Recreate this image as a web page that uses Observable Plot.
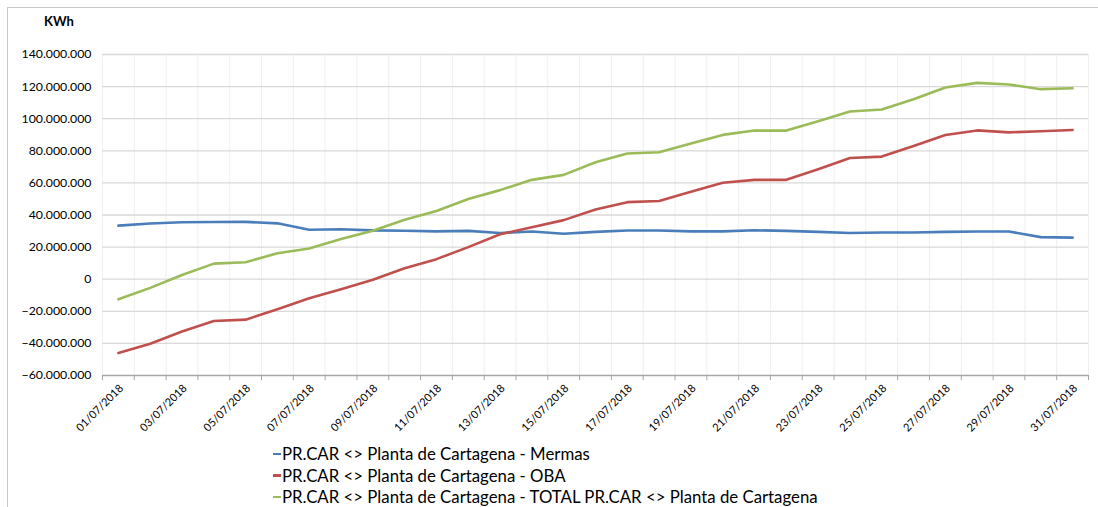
<!DOCTYPE html>
<html>
<head>
<meta charset="utf-8">
<script src="https://cdn.jsdelivr.net/npm/d3@7"></script>
<script src="https://cdn.jsdelivr.net/npm/@observablehq/plot@0.6"></script>
<style>
  html, body { margin: 0; padding: 0; background: #fff; }
  #wrap { position: relative; width: 1098px; height: 507px; overflow: hidden; font-family: Lato, "Open Sans", sans-serif; color: #000; }
  #frame { position: absolute; left: 7px; top: 7px; width: 1200px; height: 600px; border-left: 1.5px solid #c8c8c8; border-top: 1.5px solid #c8c8c8; }
  #title { position: absolute; left: 44px; top: 13px; font-size: 13px; font-weight: bold; }
  #chart { position: absolute; left: 0; top: 0; }
  #legend { position: absolute; left: 273px; top: 443px; font-size: 16.8px; line-height: 21.5px; }
  #legend .item { display: flex; align-items: center; white-space: nowrap; }
  #legend .sw { width: 8px; height: 2.5px; margin-right: 1px; }
</style>
</head>
<body>
<div id="wrap">
  <div id="frame"></div>
  <div id="chart"></div>
  <div id="title">KWh</div>
  <div id="legend"></div>
</div>
<script>
const days = d3.range(1, 32);
const dateLabels = days.map(d => String(d).padStart(2, "0") + "/07/2018");
const seriesNames = [
  "PR.CAR <> Planta de Cartagena - Mermas",
  "PR.CAR <> Planta de Cartagena - OBA",
  "PR.CAR <> Planta de Cartagena - TOTAL PR.CAR <> Planta de Cartagena"
];
const seriesColors = ["#4a7ebb", "#c0504d", "#9bbb59"];
// values in millions of KWh
const mermas = [33.4, 34.7, 35.5, 35.6, 35.7, 34.8, 30.8, 31.1, 30.4, 30.2, 29.8, 30.1, 28.8, 29.7, 28.3, 29.5, 30.3, 30.3, 29.8, 29.8, 30.5, 30.1, 29.5, 28.8, 29.1, 29.1, 29.5, 29.7, 29.7, 26.2, 25.9];
const oba = [-46.0, -40.2, -32.6, -26.0, -25.2, -18.7, -11.9, -6.2, -0.4, 6.8, 12.5, 20.0, 28.0, 32.4, 36.8, 43.4, 48.0, 48.7, 54.5, 60.1, 61.9, 61.9, 68.5, 75.5, 76.4, 83.0, 89.8, 92.7, 91.5, 92.2, 93.0];
const total = [-12.5, -5.4, 2.6, 9.7, 10.6, 16.2, 19.1, 25.0, 30.2, 37.0, 42.5, 50.0, 55.5, 61.9, 65.0, 72.9, 78.3, 79.1, 84.5, 89.9, 92.6, 92.6, 98.4, 104.5, 105.7, 112.1, 119.4, 122.3, 121.3, 118.4, 119.0];
const yTicks = d3.range(-60, 141, 20);

const data = [];
[mermas, oba, total].forEach((arr, si) => {
  arr.forEach((v, i) => data.push({day: days[i], value: v * 1e6, series: seriesNames[si]}));
});

const boundaries = [days[0] - 0.5, ...days.map(d => d + 0.5)];
const labelDays = days.filter(d => d % 2 === 1);
const fmt = v => v === 0 ? "0" : d3.format(",")(v).replace(/,/g, ".");
const yMin = -60e6, yMax = 140e6;

const plot = Plot.plot({
  width: 1098,
  height: 440,
  marginLeft: 102,
  marginRight: 10,
  marginTop: 54,
  marginBottom: 65,
  style: {fontFamily: "Lato, 'Open Sans', sans-serif", fontSize: "12px", color: "#000", background: "transparent"},
  x: {type: "linear", domain: [boundaries[0], boundaries[boundaries.length - 1]], axis: null},
  y: {type: "linear", domain: [yMin, yMax], axis: null},
  color: {domain: seriesNames, range: seriesColors},
  marks: [
    Plot.ruleX(boundaries, {x: d => d, y1: yMin, y2: yMax, stroke: "#efefef", strokeWidth: 1}),
    Plot.ruleY(yTicks.filter(t => t * 1e6 > yMin).map(t => t * 1e6), {y: d => d, stroke: "#d9d9d9", strokeWidth: 1.3}),
    Plot.ruleY([yMin], {y: d => d, stroke: "#a6a6a6", strokeWidth: 1.5}),
    Plot.ruleX(boundaries, {x: d => d, y1: yMin, y2: yMin - 3.2e6, stroke: "#a6a6a6", strokeWidth: 1}),
    Plot.text(yTicks, {x: boundaries[0], y: d => d * 1e6, text: d => fmt(d * 1e6), textAnchor: "end", dx: -11, fontSize: 12.3, fill: "#000"}),
    Plot.text(labelDays, {x: d => d, y: yMin, text: d => dateLabels[d - 1], rotate: -45, textAnchor: "end", dx: 3, dy: 11, fontSize: 11, fill: "#000"}),
    Plot.line(data, {x: "day", y: "value", z: "series", stroke: "series", strokeWidth: 2.6, strokeLinejoin: "round"})
  ]
});
document.getElementById("chart").appendChild(plot);

const legend = document.getElementById("legend");
seriesNames.forEach((name, i) => {
  const item = document.createElement("div");
  item.className = "item";
  const sw = document.createElement("span");
  sw.className = "sw";
  sw.style.background = seriesColors[i];
  const t = document.createElement("span");
  t.textContent = name;
  item.appendChild(sw);
  item.appendChild(t);
  legend.appendChild(item);
});
</script>
</body>
</html>
